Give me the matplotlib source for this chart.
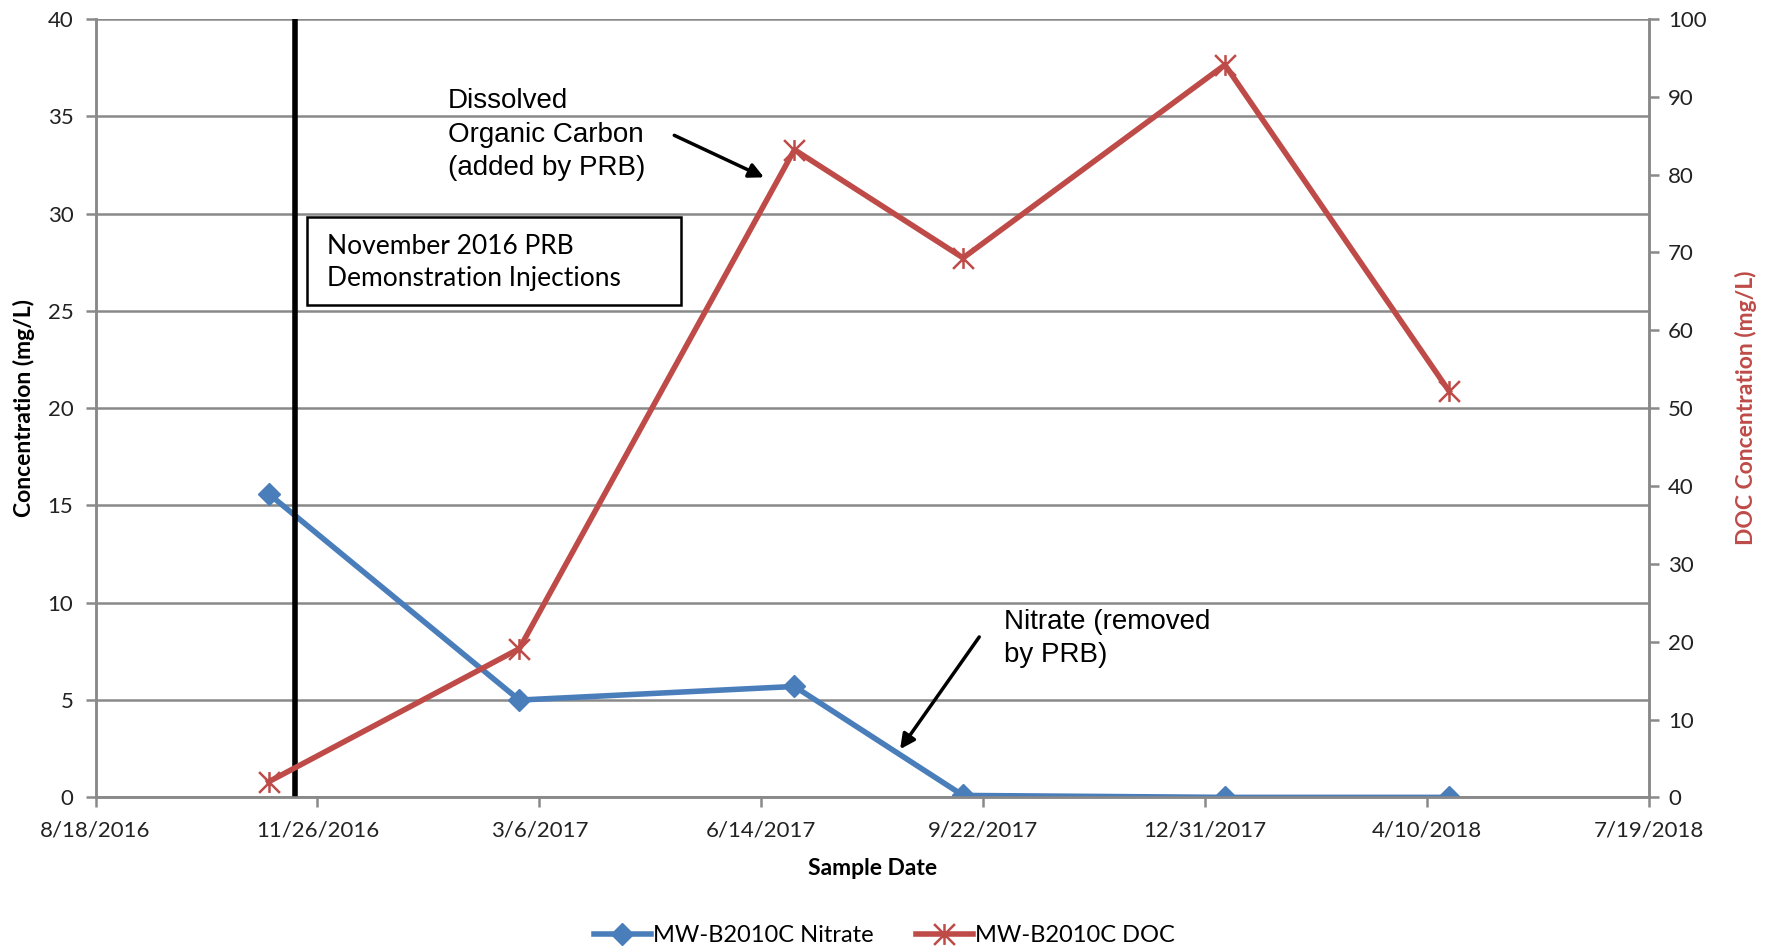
import datetime as dt
import matplotlib
matplotlib.use("Agg")
import matplotlib.pyplot as plt
import matplotlib.dates as mdates
from matplotlib.path import Path
from matplotlib.patches import Rectangle

# ---------------- data ----------------
sample_dates = ["2016-11-04", "2017-02-25", "2017-06-29", "2017-09-13", "2018-01-09", "2018-04-20"]
nitrate = [15.6, 5.0, 5.7, 0.1, 0.0, 0.0]
doc = [2.0, 19.1, 83.2, 69.3, 94.1, 52.2]
injection_date = "2016-11-16"
x_tick_dates = ["2016-08-18", "2016-11-26", "2017-03-06", "2017-06-14",
                "2017-09-22", "2017-12-31", "2018-04-10", "2018-07-19"]
x_tick_labels = ["8/18/2016", "11/26/2016", "3/6/2017", "6/14/2017",
                 "9/22/2017", "12/31/2017", "4/10/2018", "7/19/2018"]
left_ticks = [0, 5, 10, 15, 20, 25, 30, 35, 40]
right_ticks = [0, 10, 20, 30, 40, 50, 60, 70, 80, 90, 100]

def to_num(s):
    return mdates.date2num(dt.datetime.strptime(s, "%Y-%m-%d"))

xs = [to_num(s) for s in sample_dates]
xticks = [to_num(s) for s in x_tick_dates]

BLUE = "#4A7EBB"
RED = "#BE4B48"
GRID = "#898989"
CAL = ["Lato", "DejaVu Sans"]
ARIAL = ["Liberation Sans", "DejaVu Sans"]

plt.rcParams["font.family"] = CAL

fig = plt.figure(figsize=(17.69, 9.47), dpi=100)
ax = fig.add_axes([0.054, 0.158, 0.878, 0.822])
ax2 = ax.twinx()

# star marker (x plus vertical bar)
star = Path([(-1, -1), (1, 1), (-1, 1), (1, -1), (0, -1), (0, 1)],
            [Path.MOVETO, Path.LINETO, Path.MOVETO, Path.LINETO, Path.MOVETO, Path.LINETO])

l1, = ax.plot(xs, nitrate, color=BLUE, lw=4, marker="D", ms=11,
              label="MW-B2010C Nitrate", zorder=3)
l2, = ax2.plot(xs, doc, color=RED, lw=4, marker=star, ms=15, mew=1.8,
               label="MW-B2010C DOC", zorder=3)

ax.axvline(to_num(injection_date), color="black", lw=4, zorder=4)

ax.set_xlim(xticks[0], xticks[-1])
ax.set_ylim(0, 40)
ax2.set_ylim(0, 100)
ax.set_xticks(xticks)
ax.set_xticklabels(x_tick_labels)
ax.set_yticks(left_ticks)
ax2.set_yticks(right_ticks)

ax.grid(axis="y", color=GRID, lw=1.8)
ax.set_axisbelow(True)
for a in (ax, ax2):
    for sp in a.spines.values():
        sp.set_color(GRID)
        sp.set_linewidth(1.8)
    a.tick_params(colors=GRID, labelcolor="#222222", labelsize=16,
                  length=7, width=1.8, direction="out")
ax.tick_params(axis="x", pad=10)
ax.tick_params(axis="y", pad=9)
ax2.tick_params(pad=7)
ax.spines["top"].set_visible(False)
ax2.spines["top"].set_visible(False)

ax.set_xlabel("Sample Date", fontsize=16.5, fontweight="bold", labelpad=12)
ax.set_ylabel("Concentration (mg/L)", fontsize=16.5, fontweight="bold", labelpad=9)
ax2.set_ylabel("DOC Concentration (mg/L)", fontsize=16.5, fontweight="bold",
               color=RED, labelpad=20)

# annotation box
ax.add_patch(Rectangle((0.136, 0.633), 0.241, 0.113, transform=ax.transAxes,
                       fill=True, facecolor="white", edgecolor="black", lw=1.8, zorder=5))
ax.text(0.149, 0.708, "November 2016 PRB", transform=ax.transAxes, fontsize=19,
        va="center", ha="left", zorder=6)
ax.text(0.149, 0.666, "Demonstration Injections", transform=ax.transAxes, fontsize=19,
        va="center", ha="left", zorder=6)

ax.text(0.227, 0.911, "Dissolved\nOrganic Carbon\n(added by PRB)", transform=ax.transAxes,
        fontsize=20, family=ARIAL, va="top", ha="left", linespacing=1.37, zorder=6)
ax.annotate("", xy=(0.432, 0.795), xytext=(0.371, 0.852), xycoords="axes fraction",
            arrowprops=dict(arrowstyle="-|>", color="black", lw=2.5, mutation_scale=22),
            zorder=6)

ax.text(0.585, 0.242, "Nitrate (removed\nby PRB)", transform=ax.transAxes,
        fontsize=20, family=ARIAL, va="top", ha="left", linespacing=1.37, zorder=6)
ax.annotate("", xy=(0.517, 0.059), xytext=(0.570, 0.209), xycoords="axes fraction",
            arrowprops=dict(arrowstyle="-|>", color="black", lw=2.5, mutation_scale=22),
            zorder=6)

fig.legend(handles=[l1, l2], loc="center", bbox_to_anchor=(0.5, 0.012), ncol=2,
           frameon=False, fontsize=17, handlelength=2.4, handletextpad=0.1,
           columnspacing=1.8)

fig.savefig("out.png", dpi=100)
